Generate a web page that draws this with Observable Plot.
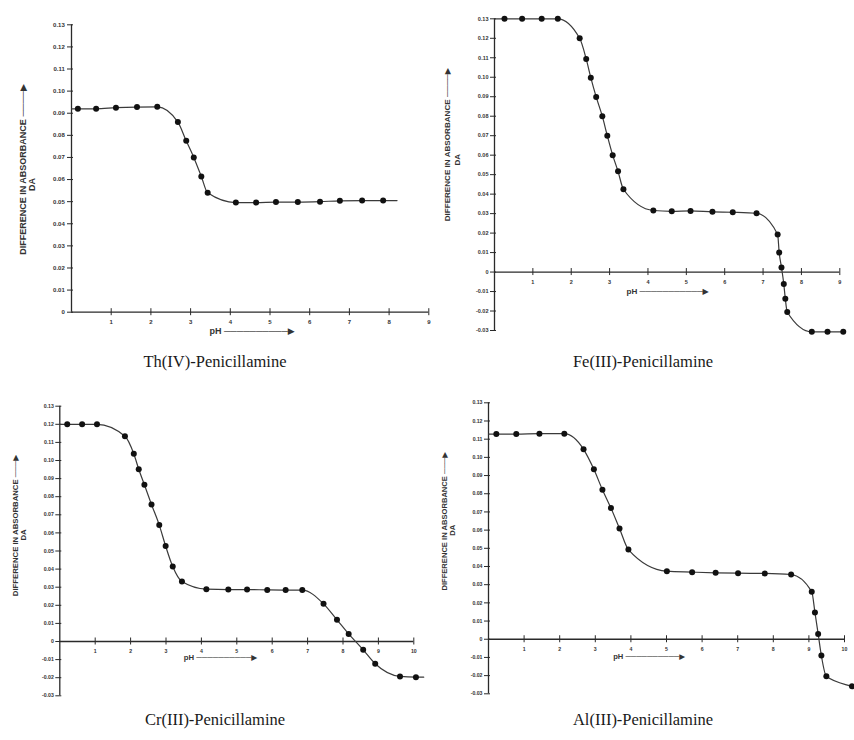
<!DOCTYPE html>
<html><head><meta charset="utf-8">
<script src="https://cdn.jsdelivr.net/npm/d3@7"></script>
<script src="https://cdn.jsdelivr.net/npm/@observablehq/plot@0.6"></script>
<style>
body{margin:0;background:#fff;}
#page{position:relative;width:854px;height:740px;overflow:hidden;background:#fff;}
#page svg{position:absolute;overflow:visible;}
.cap{position:absolute;font-family:"Liberation Serif","Times New Roman",serif;font-size:16.5px;line-height:16px;color:#1a1a1a;transform:translateX(-50%);white-space:nowrap;}
</style></head><body><div id="page"></div>
<script>
// ---- Th(IV)-Penicillamine ----
const thPH = [0.16,0.62,1.12,1.65,2.16,2.68,2.89,3.08,3.27,3.43,4.14,4.65,5.15,5.70,6.26,6.76,7.32,7.85];
const thDA = [0.0920,0.0920,0.0925,0.0928,0.0929,0.0860,0.0775,0.0700,0.0614,0.0540,0.0496,0.0496,0.0498,0.0498,0.0500,0.0504,0.0505,0.0505];
const thCurveStart = [0, 0.0920], thCurveEnd = [8.2, 0.0505];

// ---- Fe(III)-Penicillamine ----
const fePH = [0.26,0.72,1.23,1.65,2.22,2.39,2.51,2.65,2.81,2.94,3.08,3.22,3.36,4.14,4.62,5.11,5.68,6.21,6.83,7.38,7.42,7.48,7.54,7.58,7.63,8.27,8.68,9.09];
const feDA = [0.130,0.130,0.130,0.130,0.120,0.1094,0.0998,0.0899,0.0800,0.0700,0.0600,0.0517,0.0425,0.0316,0.0312,0.0314,0.0309,0.0307,0.0302,0.0193,0.0100,0.0024,-0.0061,-0.0137,-0.0205,-0.0307,-0.0307,-0.0307];
const feCurveStart = [0, 0.130], feCurveEnd = [9.09, -0.0307];

// ---- Cr(III)-Penicillamine ----
const crPH = [0.21,0.63,1.05,1.84,2.09,2.23,2.39,2.59,2.81,2.99,3.19,3.45,4.14,4.76,5.29,5.86,6.38,6.85,7.45,7.83,8.16,8.57,8.91,9.61,10.06];
const crDA = [0.120,0.120,0.120,0.1134,0.1037,0.0952,0.0866,0.0757,0.0643,0.0527,0.0414,0.0331,0.0289,0.0287,0.0287,0.0285,0.0284,0.0284,0.0208,0.0120,0.0042,-0.0046,-0.0123,-0.0193,-0.0197];
const crCurveStart = [0, 0.120], crCurveEnd = [10.28, -0.0197];

// ---- Al(III)-Penicillamine ----
const alPH = [0.22,0.78,1.43,2.13,2.67,2.96,3.20,3.44,3.68,3.93,5.01,5.72,6.38,7.01,7.76,8.50,9.08,9.17,9.26,9.35,9.49,10.21];
const alDA = [0.1128,0.1128,0.1130,0.1130,0.1044,0.0934,0.0822,0.0721,0.0609,0.0493,0.0374,0.0369,0.0365,0.0363,0.0362,0.0356,0.0261,0.0147,0.0029,-0.0090,-0.0204,-0.0259];
const alCurveStart = [0, 0.1128], alCurveEnd = [10.26, -0.0262];

// ---- axis ticks and labels ----
const yTicksPos = [0.13,0.12,0.11,0.10,0.09,0.08,0.07,0.06,0.05,0.04,0.03,0.02,0.01,0];
const yTicksNeg = [-0.01,-0.02,-0.03];
const xTicks9 = [1,2,3,4,5,6,7,8,9];
const xTicks10 = [1,2,3,4,5,6,7,8,9,10];
const yTitle = "DIFFERENCE IN ABSORBANCE";
const yUnit = "DA";
const xTitle = "pH";
const captions = ["Th(IV)-Penicillamine","Fe(III)-Penicillamine","Cr(III)-Penicillamine","Al(III)-Penicillamine"];

const panels = [
  {ph: thPH, da: thDA, cs: thCurveStart, ce: thCurveEnd, xMax: 9, yMin: 0, xTicks: xTicks9, yTicks: yTicksPos,
   left: 0, top: 0, width: 440, height: 340, mL: 71, mR: 11.7, mT: 24.3, mB: 28.3,
   fs: 9, tfs: 6, tdx: -6.7, yt: {dx: -48.3, dy: 1, n: 4}, da2: {dx: -39.3, dy: 16}, xl: {dx: 138, dy: 19, n: 10}},
  {ph: fePH, da: feDA, cs: feCurveStart, ce: feCurveEnd, xMax: 9, yMin: -0.03, xTicks: xTicks9, yTicks: yTicksPos.concat(yTicksNeg),
   left: 420, top: 0, width: 434, height: 340, mL: 74, mR: 14.7, mT: 18.3, mB: 10,
   fs: 8.1, tfs: 5.5, tdx: -6, yt: {dx: -47.3, dy: -30, n: 4}, da2: {dx: -37.3, dy: -15}, xl: {dx: 132, dy: 19.5, n: 11}},
  {ph: crPH, da: crDA, cs: crCurveStart, ce: crCurveEnd, xMax: 10, yMin: -0.03, xTicks: xTicks10, yTicks: yTicksPos.concat(yTicksNeg),
   left: 0, top: 390, width: 440, height: 310, mL: 59.3, mR: 26.7, mT: 15.7, mB: 4.7,
   fs: 7.75, tfs: 5.2, tdx: -6, yt: {dx: -44.3, dy: -25.5, n: 3}, da2: {dx: -36, dy: -16}, xl: {dx: 124, dy: 16, n: 10}},
  {ph: alPH, da: alDA, cs: alCurveStart, ce: alCurveEnd, xMax: 10, yMin: -0.03, xTicks: xTicks10, yTicks: yTicksPos.concat(yTicksNeg),
   left: 420, top: 390, width: 434, height: 310, mL: 68, mR: 10, mT: 12.3, mB: 6.7,
   fs: 7.6, tfs: 5.2, tdx: -6, yt: {dx: -44, dy: -27, n: 3}, da2: {dx: -36.3, dy: -18}, xl: {dx: 124.7, dy: 17, n: 10}}
];

const fmt = d => d === 0 ? "0" : d.toFixed(2);
const page = document.getElementById("page");
const INK = "#2a2a2a";

panels.forEach((p, k) => {
  const pts = p.ph.map((x, i) => ({pH: x, DA: p.da[i]}));
  const curve = [{pH: p.cs[0], DA: p.cs[1]}, ...pts, {pH: p.ce[0], DA: p.ce[1]}];
  const svg = Plot.plot({
    width: p.width, height: p.height,
    marginLeft: p.mL, marginRight: p.mR, marginTop: p.mT, marginBottom: p.mB,
    x: {domain: [0, p.xMax], axis: null},
    y: {domain: [p.yMin, 0.13], axis: null},
    style: {fontFamily: "'Liberation Sans', Arial, 'DejaVu Sans', sans-serif", background: "transparent", overflow: "visible"},
    marks: [
      // axis lines
      Plot.ruleX([0], {y1: p.yMin, y2: 0.13, stroke: INK, strokeWidth: 1.3}),
      Plot.ruleY([0], {x1: 0, x2: p.xMax, stroke: INK, strokeWidth: 1.3}),
      // tick marks
      Plot.ruleY(p.yTicks, {y: d => d, x1: 0, x2: 0, insetLeft: -4, insetRight: -2, stroke: INK, strokeWidth: 1}),
      Plot.ruleX(p.xTicks, {x: d => d, y1: 0, y2: 0, insetTop: -3.5, insetBottom: -3.5, stroke: INK, strokeWidth: 1}),
      // tick labels
      Plot.text(p.yTicks, {x: 0, y: d => d, text: fmt, dx: p.tdx, textAnchor: "end", fontSize: p.tfs, fontWeight: "bold", fill: "#333"}),
      Plot.text(p.xTicks, {x: d => d, y: 0, text: d => String(d), dy: 10, fontSize: p.tfs, fontWeight: "bold", fill: "#333"}),
      // axis titles
      Plot.text([yTitle + " " + "\u2500".repeat(p.yt.n) + "\u25B6"], {frameAnchor: "left", textAnchor: "middle", rotate: -90,
        dx: p.yt.dx, dy: p.yt.dy, fontSize: p.fs, fontWeight: "bold", fill: "#333"}),
      Plot.text([yUnit], {frameAnchor: "left", textAnchor: "middle", rotate: -90,
        dx: p.da2.dx, dy: p.da2.dy, fontSize: p.fs, fontWeight: "bold", fill: "#333"}),
      Plot.text([xTitle + " " + "\u2500".repeat(p.xl.n) + "\u25B6"], {y: 0, frameAnchor: "left", textAnchor: "start",
        dx: p.xl.dx, dy: p.xl.dy, fontSize: p.fs, fontWeight: "bold", fill: "#333"}),
      // data
      Plot.line(curve, {x: "pH", y: "DA", curve: "monotone-x", stroke: "#3a3a3a", strokeWidth: 1.2}),
      Plot.dot(pts, {x: "pH", y: "DA", r: 3, fill: "#111", stroke: "none"})
    ]
  });
  svg.style.left = p.left + "px";
  svg.style.top = p.top + "px";
  page.appendChild(svg);
  const cap = document.createElement("div");
  cap.className = "cap";
  cap.textContent = captions[k];
  cap.style.left = (k % 2 === 0 ? 215 : 643) + "px";
  cap.style.top = (k < 2 ? 354 : 712) + "px";
  page.appendChild(cap);
});
</script>
</body></html>
